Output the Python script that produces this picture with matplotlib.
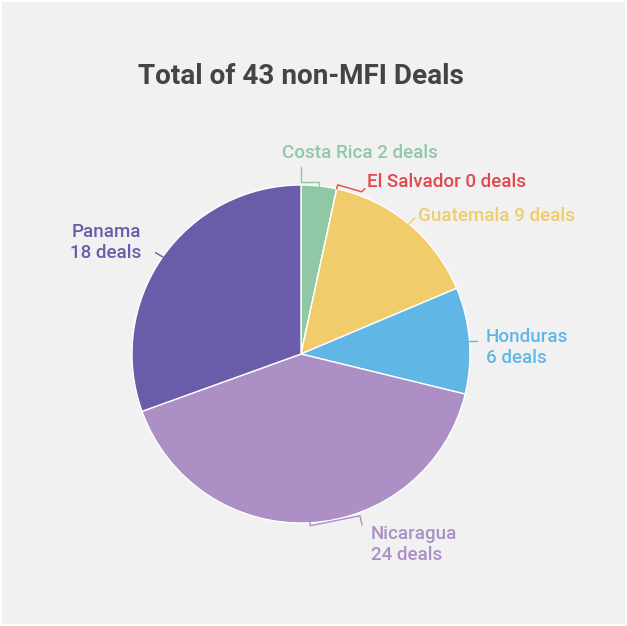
import numpy as np
import matplotlib.pyplot as plt
from matplotlib.patches import Rectangle

countries = ["Costa Rica", "El Salvador", "Guatemala", "Honduras", "Nicaragua", "Panama"]
deals = [2, 0, 9, 6, 24, 18]
colors = ["#90c8a6", "#e2474c", "#f1cc6b", "#60b7e5", "#ab8fc5", "#695da9"]
title = "Total of 43 non-MFI Deals"

W, H = 627, 626
fig = plt.figure(figsize=(W / 100, H / 100), dpi=100, facecolor="white")
fig.patches.append(Rectangle((2, 2), W - 4, H - 4, transform=None,
                             facecolor="#f1f1f1", edgecolor="none", zorder=-1))
ax = fig.add_axes([0, 0, 1, 1])

cx, cy, r = 301, H - 354, 169
ax.pie(deals, colors=colors, startangle=90, counterclock=False,
       center=(cx, cy), radius=r, frame=True,
       wedgeprops=dict(edgecolor="white", linewidth=1))
ax.set_xlim(0, W)
ax.set_ylim(0, H)
ax.axis("off")

font = "Roboto"
fig.text(301 / W, 1 - 77 / H, title, ha="center", va="center", fontsize=20.1,
         fontweight="bold", color="#444444", family=font)

# mid angle of each slice (clockwise from top)
total = sum(deals)
ends = np.cumsum(deals) / total * 360
mids = ends - np.array(deals) / total * 180

def arc_pt(theta, rad=r):
    t = np.radians(theta)
    return cx + rad * np.sin(t), cy + rad * np.cos(t)

# label lines, anchor of first baseline (pixel, y from top), alignment, connector bends
labels = [
    (["Costa Rica 2 deals"], (282, 158), "left", [(0, 4), (-18, 4), (-18, 19)]),
    (["El Salvador 0 deals"], (367, 187), "left", [(1, 4), (25, -3), (28, 0)]),
    (["Guatemala 9 deals"], (418, 221), "left", [(6, 6)]),
    (["Honduras", "6 deals"], (486, 342), "left", [(8, 0)]),
    (["Nicaragua", "24 deals"], (371, 539), "left", [(0, -3), (50, 7), (52, -2)]),
    (["Panama", "18 deals"], (141, 237), "right", [(-7, 4)]),
]
line_gap = 21

for i, (lines, (lx, ly), ha, bends) in enumerate(labels):
    px, py = arc_pt(mids[i])
    xs = [px] + [px + dx for dx, dy in bends]
    ys = [py] + [py + dy for dx, dy in bends]
    ax.plot(xs, ys, color=colors[i], lw=1, solid_joinstyle="miter")
    for k, txt in enumerate(lines):
        ax.text(lx, H - ly - k * line_gap, txt, ha=ha, va="baseline", fontsize=13.5,
                fontweight="medium", color=colors[i], family=font)

fig.savefig("out.png", dpi=100, facecolor="white")
